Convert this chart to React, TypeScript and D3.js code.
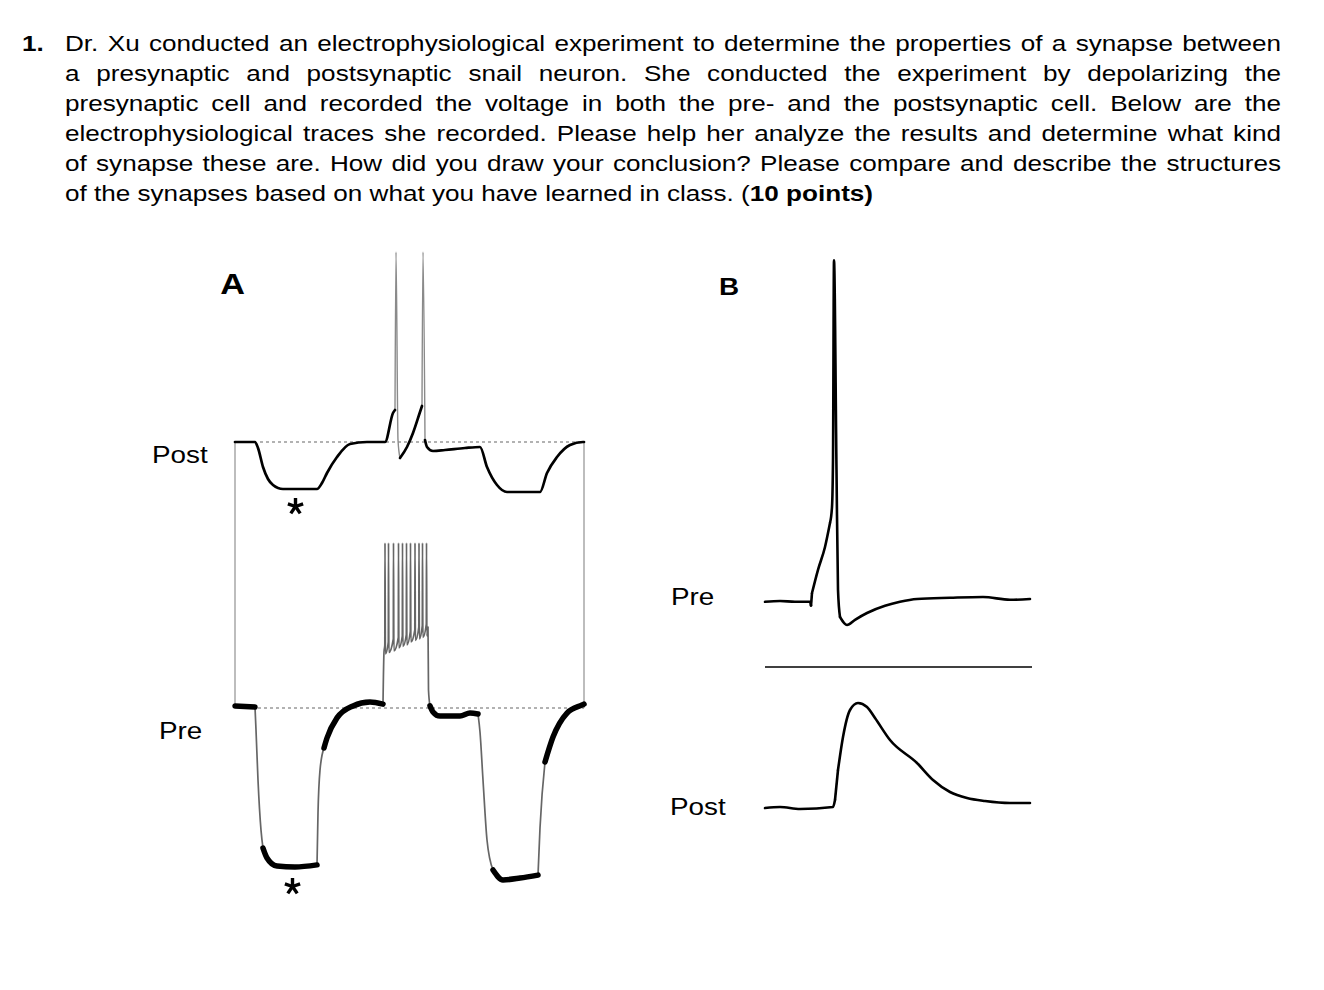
import { useMemo } from "react";
import * as d3 from "d3";

const W = 1324;
const H = 990;

// question text, one entry per printed line
const questionNumber = "1.";
const questionLines = [
  "Dr. Xu conducted an electrophysiological experiment to determine the properties of a synapse between",
  "a presynaptic and postsynaptic snail neuron. She conducted the experiment by depolarizing the",
  "presynaptic cell and recorded the voltage in both the pre- and the postsynaptic cell. Below are the",
  "electrophysiological traces she recorded. Please help her analyze the results and determine what kind",
  "of synapse these are. How did you draw your conclusion? Please compare and describe the structures",
];
const lastLineText = "of the synapses based on what you have learned in class. (";
const lastLineBold = "10 points)";

// panel A: current steps in the presynaptic cell (time in ms, voltage in mV)
const aPostTime = [0, 200, 230, 280, 330, 380, 480, 820, 870, 920, 1020, 1150, 1320, 1500, 1580, 1600, 1610, 1630, 1650, 1720, 1780, 1850, 1870, 1880, 1900, 1920, 1980, 2100, 2300, 2450, 2520, 2620, 2720, 3050, 3120, 3220, 3350, 3480, 3490];
const aPostMv = [-50, -50, -53, -62.5, -68.5, -71.5, -73.5, -73.5, -70.5, -65.5, -57.5, -51, -50, -50, -35.5, -34, 45, -49, -58, -52.5, -45.5, -35, -32, 45, -49, -52.5, -54.5, -54, -53, -52.5, -62.5, -71.5, -75, -75, -65.5, -57.5, -51.5, -50, -50];
const aPreTime = [0, 200, 210, 230, 260, 280, 320, 420, 600, 820, 830, 850, 890, 920, 1020, 1180, 1350, 1480, 1490, 1498, 1500, 1504, 1533, 1535, 1539, 1583, 1585, 1589, 1633, 1635, 1639, 1673, 1675, 1679, 1713, 1715, 1719, 1753, 1755, 1759, 1798, 1800, 1804, 1838, 1840, 1844, 1873, 1875, 1879, 1913, 1915, 1919, 1930, 1935, 1950, 1980, 2050, 2250, 2350, 2430, 2450, 2480, 2520, 2580, 2680, 2850, 3030, 3050, 3100, 3180, 3320, 3470, 3490];
const aPreMv = [-49.3, -49.7, -57.3, -74, -90.7, -96.7, -100, -102.7, -103, -102.3, -85, -70.7, -63.3, -60, -53.3, -49.3, -48, -48.7, -31.3, -29, 5, -32, -28, 5, -31.5, -27, 5, -31, -26.5, 5, -30, -26, 5, -29.5, -25.5, 5, -29, -24.5, 5, -28, -24, 5, -27.5, -23, 5, -27, -22.5, 5, -26.5, -22, 5, -26, -23, -44, -49.3, -51.3, -52.7, -52.7, -51.7, -52, -58, -74, -94, -104, -107.3, -106.7, -105.7, -90, -68, -59.7, -51.7, -49, -48.7];

// panel B: single presynaptic spike and the EPSP (time in ms, voltage in mV)
const bPreTime = [0, 1.5, 3.0, 4.5, 4.6, 4.7, 5.3, 6.0, 6.5, 6.7, 6.8, 6.9, 7.15, 7.3, 7.5, 8.2, 9.0, 10.2, 12.0, 13.5, 15.2, 18.5, 21.8, 24.5, 26.5];
const bPreMv = [-60.2, -60, -60.2, -60.2, -61.2, -58, -52.2, -46.5, -40.5, -36.5, -24.7, 25.2, -27.2, -57.2, -64, -66, -64.7, -63, -61.2, -60.2, -59.5, -59.2, -59, -59.7, -59.5];
const bPostTime = [0, 1.5, 3.5, 6.8, 7.0, 7.3, 7.8, 8.5, 9.3, 10.2, 11.0, 12.5, 15.2, 16.8, 18.5, 20.2, 22.0, 24.5, 26.5];
const bPostMv = [-60, -59.9, -60.1, -59.9, -59.2, -56.2, -52.9, -50.2, -49.5, -49.9, -51, -53.2, -55.5, -57.2, -58.4, -59, -59.3, -59.5, -59.5];

const panelLabels = ["A", "B"];
const postLabel = "Post";
const preLabel = "Pre";

const FONT = '"Liberation Sans", Arial, Helvetica, sans-serif';
const SX = 1.16; // the scanned page is a little wider than tall
const BODY = 22.5;
const TEXT_LEFT = 65;
const TEXT_RIGHT = 1281;

let ctx: CanvasRenderingContext2D | null = null;
function measure(t: string, size: number, bold = false) {
  if (!ctx) ctx = document.createElement("canvas").getContext("2d");
  if (!ctx) return t.length * size * 0.5;
  ctx.font = `${bold ? "bold " : ""}${size}px ${FONT}`;
  return ctx.measureText(t).width * SX;
}

type Pt = [number, number];

// split a trace into slow (thick, noisy) and fast (thin, grey) pieces
function splitRuns(pts: Pt[], steep: number) {
  const out: { fast: boolean; pts: Pt[] }[] = [];
  for (let i = 1; i < pts.length; i++) {
    const [x0, y0] = pts[i - 1];
    const [x1, y1] = pts[i];
    const dx = Math.abs(x1 - x0);
    const dy = Math.abs(y1 - y0);
    const fast = dy > steep * Math.max(dx, 0.01) || (dx < 5 && dy > 11);
    const last = out[out.length - 1];
    if (last && last.fast === fast) last.pts.push(pts[i]);
    else out.push({ fast, pts: [pts[i - 1], pts[i]] });
  }
  return out;
}

const line = d3.line<Pt>().curve(d3.curveMonotoneX);

function Trace({ pts, steep, thick, thin, thinColor }: { pts: Pt[]; steep: number; thick: number; thin: number; thinColor: string }) {
  const runs = splitRuns(pts, steep);
  return (
    <g fill="none" strokeLinejoin="round" strokeLinecap="round">
      {runs.filter((r) => r.fast).map((r, i) => (
        <path key={"f" + i} d={line(r.pts) ?? ""} stroke={thinColor} strokeWidth={thin} strokeLinecap="butt" />
      ))}
      {runs.filter((r) => !r.fast).map((r, i) => (
        <path key={"s" + i} d={line(r.pts) ?? ""} stroke="#000" strokeWidth={thick} />
      ))}
    </g>
  );
}

function Asterisk({ x, y }: { x: number; y: number }) {
  const arms = [-90, -18, 54, 126, 198];
  return (
    <g stroke="#000" strokeWidth={3.4} strokeLinecap="butt">
      {arms.map((a) => (
        <line key={a} x1={x} y1={y} x2={x + 8 * Math.cos((a * Math.PI) / 180)} y2={y + 8.5 * Math.sin((a * Math.PI) / 180)} />
      ))}
    </g>
  );
}

function Label({ x, y, text, size, bold = false, anchor = "start" }: { x: number; y: number; text: string; size: number; bold?: boolean; anchor?: string }) {
  return (
    <text
      transform={`translate(${x},${y}) scale(${SX},1)`}
      fontFamily={FONT}
      fontSize={size}
      fontWeight={bold ? "bold" : "normal"}
      textAnchor={anchor as any}
      fill="#000"
    >
      {text}
    </text>
  );
}

function Question() {
  const lineY = (i: number) => 50.5 + i * 30.1;
  const items: JSX.Element[] = [];
  questionLines.forEach((ln, li) => {
    const words = ln.split(" ");
    const widths = words.map((w) => measure(w, BODY));
    const gap = (TEXT_RIGHT - TEXT_LEFT - d3.sum(widths)) / (words.length - 1);
    let x = TEXT_LEFT;
    words.forEach((w, wi) => {
      items.push(<Label key={`${li}-${wi}`} x={x} y={lineY(li)} text={w} size={BODY} />);
      x += widths[wi] + gap;
    });
  });
  const li = questionLines.length;
  const regW = measure(lastLineText, BODY);
  items.push(<Label key="last" x={TEXT_LEFT} y={lineY(li)} text={lastLineText} size={BODY} />);
  items.push(<Label key="lastb" x={TEXT_LEFT + regW} y={lineY(li)} text={lastLineBold} size={BODY} bold />);
  items.push(<Label key="num" x={22} y={lineY(0)} text={questionNumber} size={BODY} bold />);
  return <g style={{ whiteSpace: "pre" }}>{items}</g>;
}

export default function App() {
  const xA = d3.scaleLinear().domain([0, 3490]).range([235, 584]);
  const yAPost = d3.scaleLinear().domain([-50, 45]).range([442, 252]);
  const yAPre = d3.scaleLinear().domain([-50, 5]).range([708, 543]);
  const xB = d3.scaleLinear().domain([0, 26.7]).range([765, 1032]);
  const yBPre = d3.scaleLinear().domain([-60, 25]).range([601, 261]);
  const yBPost = d3.scaleLinear().domain([-60, -50]).range([808, 708]);

  const aPost = useMemo(() => aPostTime.map((t, i) => [xA(t), yAPost(aPostMv[i])] as Pt), []);
  const aPre = useMemo(() => aPreTime.map((t, i) => [xA(t), yAPre(aPreMv[i])] as Pt), []);
  const bPre = useMemo(() => bPreTime.map((t, i) => [xB(t), yBPre(bPreMv[i])] as Pt), []);
  const bPost = useMemo(() => bPostTime.map((t, i) => [xB(t), yBPost(bPostMv[i])] as Pt), []);

  const [t0, t1] = xA.domain();
  const [b0, b1] = xB.domain();

  return (
    <svg width={W} height={H} style={{ position: "absolute", left: 0, top: 0, background: "#fff" }}>
      <rect width={W} height={H} fill="#fff" />
      <Question />

      {/* Panel A */}
      <Label x={232.5} y={294} text={panelLabels[0]} size={29.5} bold anchor="middle" />
      <g stroke="#9a9a9a" strokeWidth={1.3}>
        <line x1={xA(t0)} x2={xA(t0)} y1={yAPost(-50)} y2={yAPre(-50)} />
        <line x1={xA(t1)} x2={xA(t1)} y1={yAPost(-50)} y2={yAPre(-50)} />
      </g>
      <g stroke="#999" strokeWidth={1.3} strokeDasharray="3,3">
        <line x1={xA(250)} x2={xA(t1)} y1={yAPost(-50)} y2={yAPost(-50)} />
        <line x1={xA(230)} x2={xA(t1)} y1={yAPre(-50)} y2={yAPre(-50)} />
      </g>
      <Trace pts={aPost} steep={6} thick={2.7} thin={1.4} thinColor="#8a8a8a" />
      <Trace pts={aPre} steep={4.5} thick={5.5} thin={1.7} thinColor="#666" />
      <Label x={152} y={463} text={postLabel} size={24} />
      <Label x={159} y={739} text={preLabel} size={24} />
      <Asterisk x={295.5} y={506.5} />
      <Asterisk x={292.5} y={886.5} />

      {/* Panel B */}
      <Label x={729} y={295} text={panelLabels[1]} size={24} bold anchor="middle" />
      <Trace pts={bPre} steep={1000} thick={2.6} thin={2.6} thinColor="#000" />
      <line x1={xB(b0)} x2={xB(b1)} y1={667} y2={667} stroke="#000" strokeWidth={1.5} />
      <Trace pts={bPost} steep={1000} thick={2.6} thin={2.6} thinColor="#000" />
      <Label x={671} y={605} text={preLabel} size={24} />
      <Label x={670} y={815} text={postLabel} size={24} />
    </svg>
  );
}
